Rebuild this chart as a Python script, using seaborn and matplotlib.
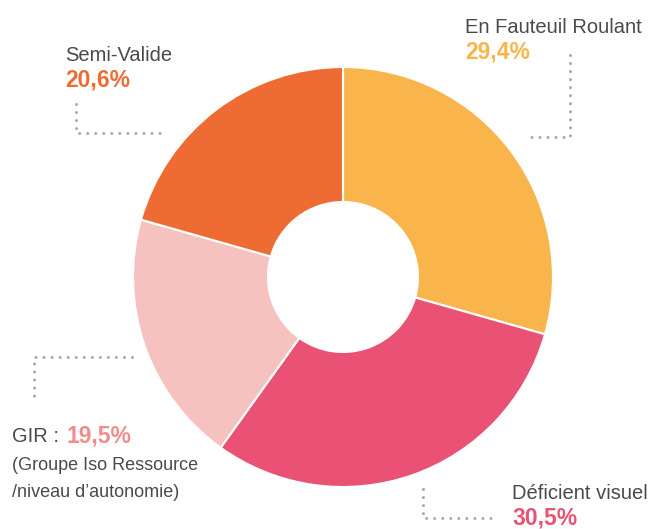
import matplotlib.pyplot as plt
import seaborn as sns

# Donut data (clockwise from the top)
labels = ['En Fauteuil Roulant', 'Déficient visuel', 'GIR', 'Semi-Valide']
values = [29.4, 30.5, 19.5, 20.6]
pct_text = ['29,4%', '30,5%', '19,5%', '20,6%']
colors = ['#F9B54C', '#E95275', '#F6C2C0', '#EE6C33']
pct_colors = ['#F9B54C', '#E95275', '#F28C8A', '#EE6C33']
gir_note = ['(Groupe Iso Ressource', '/niveau d\u2019autonomie)']


def main():
    sns.set_theme(style='white')
    plt.rcParams['font.family'] = ['Liberation Sans', 'DejaVu Sans']

    fig = plt.figure(figsize=(6.53, 5.29), dpi=100)
    ax = fig.add_axes([0, 0, 1, 1])

    ax.pie(values, colors=colors, startangle=90, counterclock=False,
           center=(343, 252), radius=210,
           wedgeprops=dict(width=135, edgecolor='white', linewidth=1.5))
    ax.set_xlim(0, 653)
    ax.set_ylim(0, 529)
    ax.set_aspect('auto')
    ax.axis('off')

    # dotted leader lines
    leaders = [
        ([76, 76, 162], [425, 396, 396]),
        ([570, 570, 526], [474, 392, 392]),
        ([132, 34, 34], [172, 172, 132]),
        ([423, 423, 497], [40, 11, 11]),
    ]
    for xs, ys in leaders:
        ax.plot(xs, ys, color='#aaaaaa', lw=2.2, linestyle=(0, (0.01, 2.62)),
                dash_capstyle='round', solid_capstyle='round')

    txt = '#4a4a4a'
    lab_size = 14.5
    pct_size = 16.5

    # En Fauteuil Roulant
    ax.text(465, 496, labels[0], fontsize=lab_size, color=txt)
    ax.text(465, 471, pct_text[0], fontsize=pct_size, color=pct_colors[0], fontweight='bold')
    # Déficient visuel
    ax.text(512, 30, labels[1], fontsize=lab_size, color=txt)
    ax.text(512, 4, pct_text[1], fontsize=pct_size, color=pct_colors[1], fontweight='bold')
    # GIR
    ax.text(12, 87, labels[2] + ' :', fontsize=lab_size, color=txt)
    ax.text(66, 87, pct_text[2], fontsize=pct_size, color=pct_colors[2], fontweight='bold')
    ax.text(12, 59, gir_note[0], fontsize=13, color=txt)
    ax.text(12, 32, gir_note[1], fontsize=13, color=txt)
    # Semi-Valide
    ax.text(65, 468, labels[3], fontsize=lab_size, color=txt)
    ax.text(65, 442, pct_text[3], fontsize=pct_size, color=pct_colors[3], fontweight='bold')

    fig.savefig('out.png', dpi=100, facecolor='white')


if __name__ == "__main__":
    main()
